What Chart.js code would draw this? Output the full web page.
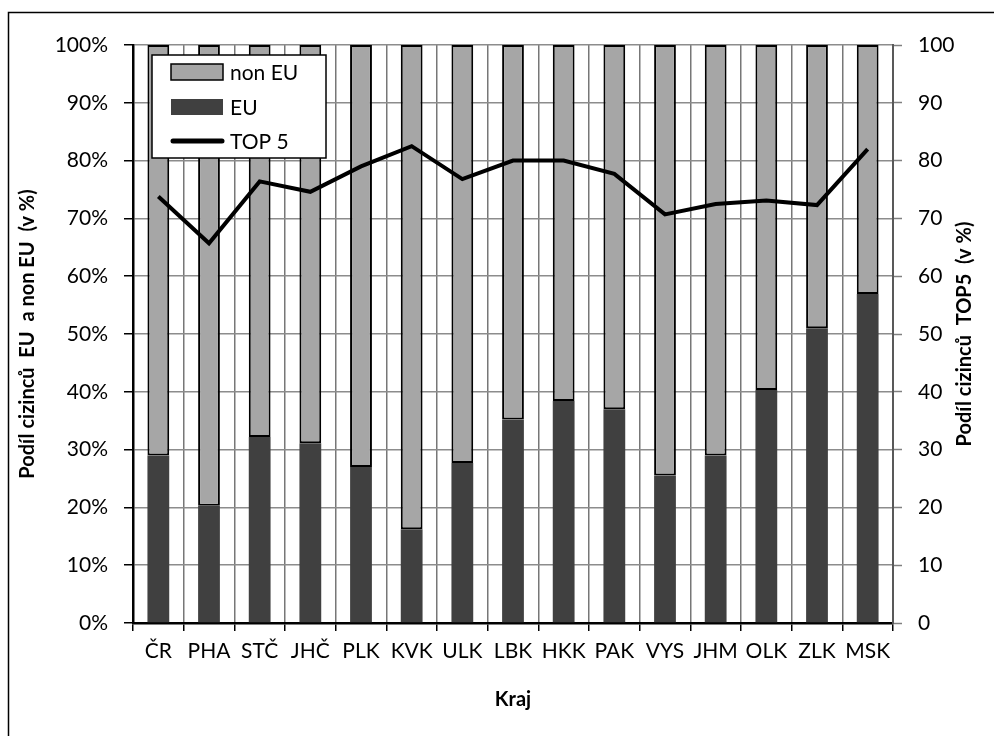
<!DOCTYPE html>
<html>
<head>
<meta charset="utf-8">
<script src="https://cdn.jsdelivr.net/npm/chart.js@4/dist/chart.umd.min.js"></script>
<style>
  html, body { margin: 0; padding: 0; background: #fff; }
  canvas { display: block; }
</style>
</head>
<body>
<canvas id="chart" width="994" height="736"></canvas>
<script>
// kraje
const regions = ["ČR", "PHA", "STČ", "JHČ", "PLK", "KVK", "ULK", "LBK", "HKK", "PAK", "VYS", "JHM", "OLK", "ZLK", "MSK"];
// podíl cizinců z EU (v %)
const euShare = [29.0, 20.3, 32.2, 31.1, 27.0, 16.2, 27.7, 35.2, 38.4, 37.0, 25.5, 29.0, 40.3, 51.0, 56.9];
// podíl cizinců mimo EU (v %)
const nonEuShare = [71.0, 79.7, 67.8, 68.9, 73.0, 83.8, 72.3, 64.8, 61.6, 63.0, 74.5, 71.0, 59.7, 49.0, 43.1];
// podíl cizinců TOP 5 (v %)
const top5Share = [73.8, 65.7, 76.4, 74.6, 79.0, 82.5, 76.8, 80.0, 80.0, 77.7, 70.7, 72.5, 73.1, 72.3, 82.0];
const leftTicks = [0, 10, 20, 30, 40, 50, 60, 70, 80, 90, 100];
const rightTitle = "Podíl cizinců  TOP5  (v %)";

const FONT = "Lato, 'Open Sans', sans-serif";
const TITLE_FONT = { family: FONT, size: 20, weight: "bold" };

const frame = {
    id: "frame",
    beforeDraw(chart) {
        const ctx = chart.ctx;
        ctx.save();
        ctx.fillStyle = "#fff";
        ctx.fillRect(0, 0, chart.width, chart.height);
        ctx.strokeStyle = "#000";
        ctx.lineWidth = 1.5;
        ctx.strokeRect(8.5, 12.5, 1200, 1200);
        ctx.restore();
    },
    afterDraw(chart) {
        // titulek pravé osy čtený zdola nahoru jako u levé osy
        const ctx = chart.ctx;
        const area = chart.chartArea;
        ctx.save();
        ctx.translate(965, (area.top + area.bottom) / 2);
        ctx.rotate(-Math.PI / 2);
        ctx.font = "bold 20px " + FONT;
        ctx.fillStyle = "#000";
        ctx.textAlign = "center";
        ctx.textBaseline = "middle";
        ctx.fillText(rightTitle, 0, 0);
        ctx.restore();
    },
};

// legenda v rámečku uvnitř grafu
const boxLegend = {
    id: "boxLegend",
    afterDatasetsDraw(chart) {
        const ctx = chart.ctx;
        const ds = chart.data.datasets;
        const x = 152, y = 55, w = 174, h = 103;
        ctx.save();
        ctx.fillStyle = "#fff";
        ctx.fillRect(x, y, w, h);
        ctx.strokeStyle = "#000";
        ctx.lineWidth = 1.5;
        ctx.strokeRect(x, y, w, h);

        const items = [ds[1], ds[0], ds[2]];
        const rowY = [72, 107, 141];
        ctx.font = "21px " + FONT;
        ctx.textBaseline = "middle";
        items.forEach((d, i) => {
            const cy = rowY[i];
            if (d.type === "line") {
                ctx.strokeStyle = d.borderColor;
                ctx.lineWidth = 5;
                ctx.lineCap = "round";
                ctx.beginPath();
                ctx.moveTo(173, cy);
                ctx.lineTo(222, cy);
                ctx.stroke();
            } else {
                ctx.fillStyle = d.backgroundColor;
                ctx.fillRect(171, cy - 8, 52, 16);
                if (d.borderWidth) {
                    ctx.strokeStyle = d.borderColor;
                    ctx.lineWidth = 1.5;
                    ctx.strokeRect(171, cy - 8, 52, 16);
                }
            }
            ctx.fillStyle = "#000";
            ctx.fillText(d.label, 230, cy + 1);
        });
        ctx.restore();
    },
};

new Chart(document.getElementById("chart"), {
    type: "bar",
    data: {
        labels: regions,
        datasets: [
            {
                label: "EU",
                data: euShare,
                backgroundColor: "#404040",
                borderWidth: 0,
                order: 1,
            },
            {
                label: "non EU",
                data: nonEuShare,
                backgroundColor: "#a6a6a6",
                borderColor: "#000",
                borderWidth: 2,
                borderSkipped: false,
                order: 1,
            },
            {
                type: "line",
                label: "TOP 5",
                data: top5Share,
                yAxisID: "y2",
                borderColor: "#000",
                borderWidth: 4,
                pointRadius: 0,
                tension: 0,
                order: 0,
            },
        ],
    },
    options: {
        responsive: false,
        animation: false,
        layout: { padding: { top: 45, left: 0, right: 0, bottom: 0 } },
        datasets: {
            bar: { barPercentage: 0.43, categoryPercentage: 1 },
        },
        plugins: {
            legend: { display: false },
            tooltip: { enabled: false },
        },
        scales: {
            x: {
                stacked: true,
                afterFit: (s) => { s.height = 113; },
                grid: {
                    offset: true,
                    color: "#777",
                    lineWidth: 1.5,
                    tickColor: "#000",
                    tickWidth: 1.5,
                    tickLength: 8,
                },
                border: { color: "#000", width: 2.5 },
                ticks: {
                    color: "#000",
                    font: { family: FONT, size: 21 },
                    padding: 8,
                    maxRotation: 0,
                    autoSkip: false,
                },
                title: {
                    display: true,
                    text: "Kraj",
                    color: "#000",
                    font: TITLE_FONT,
                    padding: { bottom: 24 },
                },
            },
            y: {
                stacked: true,
                min: 0,
                max: 100,
                afterFit: (s) => { s.width = 133; },
                afterBuildTicks: (s) => { s.ticks = leftTicks.map((v) => ({ value: v })); },
                grid: {
                    color: "#8c8c8c",
                    lineWidth: 1.5,
                    tickColor: "#000",
                    tickWidth: 1.5,
                    tickLength: 9,
                },
                border: { color: "#000", width: 2.5 },
                ticks: {
                    color: "#000",
                    font: { family: FONT, size: 21 },
                    padding: 16,
                    callback: (v) => v + "%",
                },
                title: {
                    display: true,
                    text: "Podíl cizinců  EU  a non EU  (v %)",
                    color: "#000",
                    font: TITLE_FONT,
                    padding: { top: 16 },
                },
            },
            y2: {
                position: "right",
                min: 0,
                max: 100,
                afterFit: (s) => { s.width = 101; },
                afterBuildTicks: (s) => { s.ticks = leftTicks.map((v) => ({ value: v })); },
                grid: {
                    drawOnChartArea: false,
                    color: "#808080",
                    tickColor: "#808080",
                    tickWidth: 1.5,
                    tickLength: 9,
                },
                border: { color: "#595959", width: 2 },
                ticks: {
                    color: "#000",
                    font: { family: FONT, size: 21 },
                    padding: 16,
                },
                title: { display: false },
            },
        },
    },
    plugins: [frame, boxLegend],
});
</script>
</body>
</html>
